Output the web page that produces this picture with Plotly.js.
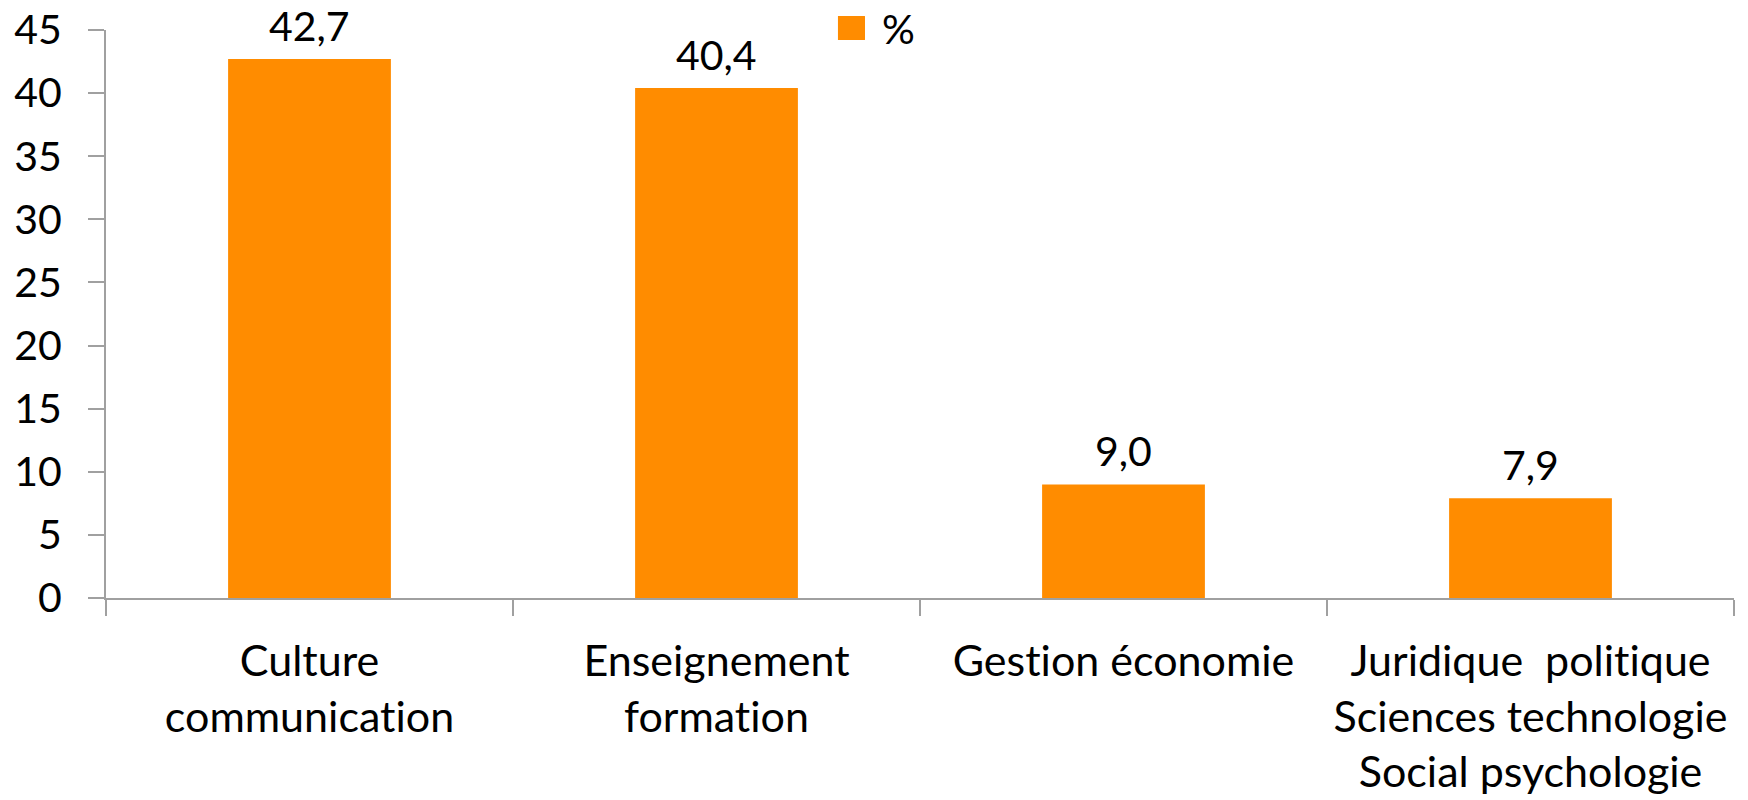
<!DOCTYPE html>
<html>
<head>
<meta charset="utf-8">
<script src="https://cdn.plot.ly/plotly-3.0.1.min.js"></script>
<style>
html,body{margin:0;padding:0;background:#fff;}
#chart{width:1748px;height:800px;}
#chart text{font-variant-ligatures:none;font-feature-settings:"liga" 0,"clig" 0;}
</style>
</head>
<body>
<div id="chart"></div>
<script>
const categories = [
  "Culture<br>communication",
  "Enseignement<br>formation",
  "Gestion économie",
  "Juridique\u00a0 politique<br>Sciences technologie<br>Social psychologie"
];
const values = [42.7, 40.4, 9.0, 7.9];
const seriesName = "%";
const yTicks = [0, 5, 10, 15, 20, 25, 30, 35, 40, 45];

const FONT = "Lato, 'Open Sans', sans-serif";
const labels = values.map(v => v.toFixed(1).replace('.', ','));

const trace = {
  type: 'bar',
  x: categories,
  y: values,
  name: seriesName,
  marker: {color: '#FF8C00'},
  showlegend: false,
  hoverinfo: 'skip'
};

const valueAnnotations = categories.map((c, i) => ({
  x: c, y: values[i], xref: 'x', yref: 'y',
  text: labels[i], showarrow: false,
  xanchor: 'center', yanchor: 'bottom', yshift: 7,
  font: {family: FONT, size: 41, color: '#000'}
}));

const layout = {
  width: 1748, height: 800,
  margin: {l: 106, r: 14, t: 30, b: 202},
  paper_bgcolor: '#fff', plot_bgcolor: '#fff',
  font: {family: FONT, size: 41, color: '#000'},
  bargap: 0.6,
  xaxis: {
    type: 'category',
    showline: true, linecolor: '#A0A0A0', linewidth: 2,
    ticks: 'outside', tickson: 'boundaries', ticklen: 16, tickcolor: '#A0A0A0', tickwidth: 2,
    showgrid: false, zeroline: false,
    tickfont: {family: FONT, size: 43, color: '#000'},
    ticklabelstandoff: 24
  },
  yaxis: {
    range: [0, 45], tickvals: yTicks, ticktext: yTicks.map(String),
    showline: true, linecolor: '#A0A0A0', linewidth: 2,
    ticks: 'outside', ticklen: 16, tickcolor: '#A0A0A0', tickwidth: 2,
    showgrid: false, zeroline: false,
    tickfont: {family: FONT, size: 41, color: '#000'},
    ticklabelstandoff: 18
  },
  shapes: [{
    type: 'rect', xref: 'paper', yref: 'paper',
    x0: 0.4496, x1: 0.4662, y0: 0.9824, y1: 1.0246,
    fillcolor: '#FF8C00', line: {width: 0}
  }],
  annotations: valueAnnotations.concat([{
    xref: 'paper', yref: 'paper', x: 0.4754, y: 1.0035,
    xanchor: 'left', yanchor: 'middle', showarrow: false,
    text: seriesName, font: {family: FONT, size: 41, color: '#000'}
  }])
};

Plotly.newPlot('chart', [trace], layout, {displayModeBar: false, staticPlot: true});
</script>
</body>
</html>
